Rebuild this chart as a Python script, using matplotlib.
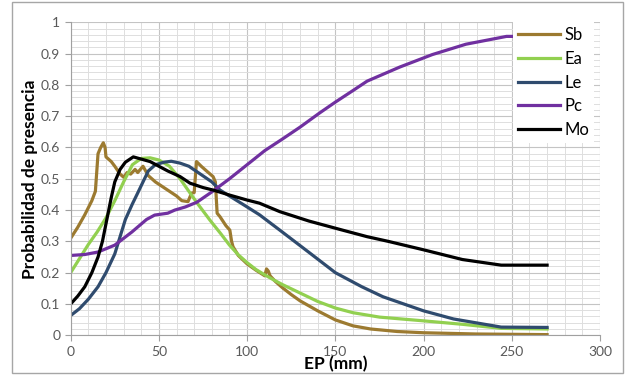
import matplotlib.pyplot as plt
from matplotlib.patches import Rectangle
from matplotlib.ticker import MultipleLocator

plt.rcParams['font.family'] = ['Lato', 'DejaVu Sans']

# Sb
sb_x = [0, 4, 8, 12, 14, 15.5, 17, 18.5, 19.5, 20, 23, 25, 28, 30, 32, 34, 36.5, 38, 41, 44,
        48, 52, 56, 60, 63, 66.5, 68.5, 70, 71.3, 74, 77, 80.7, 82, 83, 84.6, 88, 90.2, 91.2,
        92, 95, 100, 105, 110, 111, 112, 113, 116, 120, 125, 130, 140, 150, 160, 170, 185,
        200, 230, 270]
sb_y = [0.31, 0.345, 0.385, 0.43, 0.46, 0.58, 0.6, 0.615, 0.6, 0.57, 0.555, 0.54, 0.515, 0.505,
        0.52, 0.515, 0.53, 0.52, 0.54, 0.51, 0.49, 0.475, 0.46, 0.445, 0.43, 0.427, 0.454, 0.456,
        0.555, 0.54, 0.525, 0.507, 0.49, 0.39, 0.379, 0.35, 0.336, 0.3, 0.283, 0.255, 0.228,
        0.208, 0.19, 0.212, 0.205, 0.19, 0.172, 0.152, 0.13, 0.11, 0.078, 0.049, 0.03, 0.02,
        0.012, 0.008, 0.004, 0.002]

# Ea
ea_x = [0, 5, 10, 15, 20, 25, 30, 35, 40, 45, 50, 56, 62, 67.6, 72, 78.9, 85, 90, 95, 100,
        105, 110, 115, 120, 130, 140, 150, 160, 175, 200, 222, 244, 270]
ea_y = [0.2, 0.245, 0.29, 0.33, 0.375, 0.43, 0.49, 0.545, 0.565, 0.567, 0.56, 0.54, 0.5, 0.455,
        0.42, 0.368, 0.325, 0.288, 0.257, 0.232, 0.21, 0.193, 0.177, 0.162, 0.135, 0.108,
        0.087, 0.072, 0.058, 0.046, 0.035, 0.022, 0.02]

# Le
le_x = [0, 5, 10, 15.5, 20, 25, 31, 35, 37.6, 41, 44, 48, 53, 57, 62, 67, 73, 80, 84.6, 90,
        100, 107, 118.5, 135, 150, 165, 177, 200, 217, 244, 270]
le_y = [0.063, 0.085, 0.115, 0.155, 0.2, 0.26, 0.37, 0.42, 0.45, 0.49, 0.525, 0.545, 0.553,
        0.556, 0.55, 0.54, 0.517, 0.49, 0.464, 0.445, 0.41, 0.385, 0.336, 0.265, 0.2,
        0.155, 0.123, 0.078, 0.052, 0.026, 0.025]

# Pc
pc_x = [0, 8, 15.5, 25, 34.7, 43, 47.6, 55, 59, 65, 71.5, 80, 90, 100, 110, 120, 130, 141,
        150, 160, 168, 186.5, 205, 224, 247, 250]
pc_y = [0.255, 0.258, 0.266, 0.288, 0.33, 0.37, 0.384, 0.39, 0.4, 0.41, 0.425, 0.458, 0.5,
        0.545, 0.59, 0.627, 0.665, 0.71, 0.745, 0.782, 0.812, 0.857, 0.897, 0.93, 0.955, 0.955]

# Mo
mo_x = [0, 4, 8, 12, 15.5, 18, 20.5, 23, 25, 28, 31, 35.5, 45, 55, 62, 67.6, 75, 80.7, 90,
        100, 107, 118.5, 135, 154, 168, 180, 200, 222, 244, 270]
mo_y = [0.1, 0.125, 0.155, 0.2, 0.25, 0.3, 0.37, 0.44, 0.49, 0.53, 0.553, 0.57, 0.555, 0.525,
        0.507, 0.486, 0.472, 0.464, 0.448, 0.432, 0.422, 0.395, 0.365, 0.336, 0.315, 0.3,
        0.273, 0.242, 0.224, 0.224]

fig = plt.figure(figsize=(6.26, 3.75), dpi=100)
ax = fig.add_axes([0.1129, 0.106, 0.8456, 0.8345])

lw = 2.3
ax.plot(sb_x, sb_y, color='#9C7A30', lw=lw, label='Sb')
ax.plot(ea_x, ea_y, color='#92D050', lw=lw, label='Ea')
ax.plot(le_x, le_y, color='#2F4B6E', lw=lw, label='Le')
ax.plot(pc_x, pc_y, color='#7030A0', lw=lw, label='Pc')
ax.plot(mo_x, mo_y, color='black', lw=lw, label='Mo')

ax.set_xlim(0, 300)
ax.set_ylim(0, 1)
ax.xaxis.set_major_locator(MultipleLocator(50))
ax.xaxis.set_minor_locator(MultipleLocator(10))
ax.yaxis.set_major_locator(MultipleLocator(0.1))
ax.yaxis.set_minor_locator(MultipleLocator(0.02))
ax.set_yticks([i / 10 for i in range(11)])
ax.set_yticklabels(['0'] + ['0.%d' % i for i in range(1, 10)] + ['1'])
ax.grid(which='major', color='#C4C4C4', lw=0.8)
ax.grid(which='minor', color='#DEDEDE', lw=0.7)
ax.set_axisbelow(True)

for s in ['top', 'right']:
    ax.spines[s].set_visible(False)
for s in ['left', 'bottom']:
    ax.spines[s].set_color('#A0A0A0')
ax.tick_params(which='major', length=4, color='#A0A0A0', labelsize=10, labelcolor='#595959')
ax.tick_params(which='minor', length=0)

ax.set_xlabel('EP (mm)', fontsize=12.5, fontweight='bold', color='black', labelpad=-1)
ax.set_ylabel('Probabilidad de presencia', fontsize=12.5, fontweight='bold', color='black',
              labelpad=2)

leg = ax.legend(loc='upper left', bbox_to_anchor=(0.836, 1.0), fontsize=12, frameon=True,
                facecolor='white', edgecolor='none', fancybox=False, framealpha=1,
                handlelength=2.5, handletextpad=0.25, labelspacing=0.46, borderpad=0.3,
                borderaxespad=0)

fig.patches.append(Rectangle((12 / 626, 2 / 375), 611 / 626, 371 / 375, transform=fig.transFigure,
                             fill=False, edgecolor='#A6A6A6', lw=1))

fig.savefig('out.png', dpi=100)
